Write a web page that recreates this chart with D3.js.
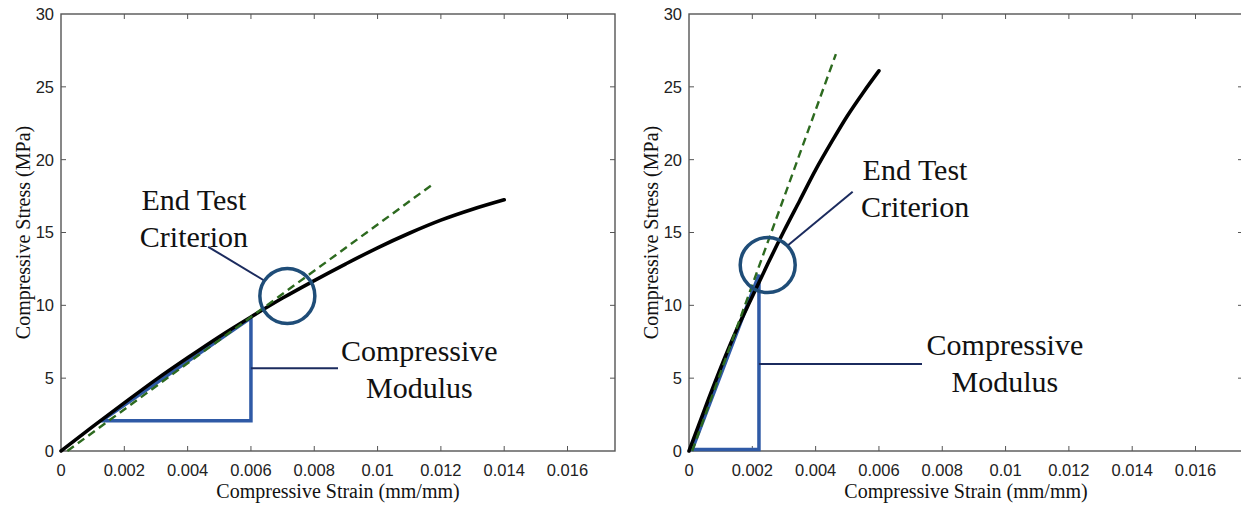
<!DOCTYPE html>
<html>
<head>
<meta charset="utf-8">
<script src="https://cdn.jsdelivr.net/npm/d3@7"></script>
<style>
body{margin:0;background:#fff;}
svg{display:block;}
</style>
</head>
<body>
<script>
var width=1241,
	height=508;

// axes
var strainTicks=[0,0.002,0.004,0.006,0.008,0.01,0.012,0.014,0.016],
	stressTicks=[0,5,10,15,20,25,30],
	strainMax=0.0175,
	stressMax=30;

// left specimen
var leftCurve=[[0,0],[0.001,1.67],[0.002,3.3],[0.003,4.9],[0.004,6.4],[0.005,7.85],[0.006,9.2],[0.007,10.5],[0.008,11.7],[0.009,12.85],[0.010,13.95],[0.011,14.95],[0.012,15.85],[0.013,16.6],[0.014,17.25]],
	leftTangent=[[0.0002,0],[0.0118,18.4]],
	leftTriangle=[[0.00128,2.07],[0.006,2.07],[0.006,9.15]],
	leftCircle=[0.00715,10.64],
	leftEndLeader=[[0.00465,14.02],[0.00639,11.74]],
	leftModLeader=[[0.006,5.68],[0.00875,5.68]],
	leftEndText=[0.0042,16.54,13.98],
	leftModText=[0.01132,6.18,3.66];

// right specimen
var rightCurve=[[0,0],[0.0005,2.9],[0.001,5.7],[0.0015,8.3],[0.002,10.6],[0.0025,12.9],[0.003,15.1],[0.0035,17.2],[0.004,19.3],[0.0045,21.2],[0.005,23.0],[0.0055,24.6],[0.006,26.1]],
	rightTangent=[[0.0001,0],[0.00464,27.25]],
	rightTriangle=[[0.0001,0.1],[0.00221,0.1],[0.00221,12.1]],
	rightCircle=[0.002486,12.77],
	rightEndLeader=[[0.00517,17.8],[0.003137,14.14]],
	rightModLeader=[[0.00221,5.97],[0.00736,5.97]],
	rightEndText=[0.00714,18.6,16.08],
	rightModText=[0.00998,6.59,4.07];

var svg=d3.select("body").append("svg").attr("width",width).attr("height",height).style("background","#fff")

function panel(left,right,top,bottom,d){
	var x=d3.scaleLinear().domain([0,strainMax]).range([left,right]),
		y=d3.scaleLinear().domain([0,stressMax]).range([bottom,top]);
	var g=svg.append("g")
	var line=d3.line().x((p)=>x(p[0])).y((p)=>y(p[1]))

	// box + inward ticks
	g.append("rect").attr("x",left).attr("y",top).attr("width",right-left).attr("height",bottom-top)
		.attr("fill","none").attr("stroke","#555").attr("stroke-width",1.4)
	var tk=5
	g.selectAll("line.xt").data(strainTicks.filter((t)=>t>0)).enter().append("line").attr("class","xt")
		.attr("x1",(t)=>x(t)).attr("x2",(t)=>x(t)).attr("y1",bottom).attr("y2",bottom-tk).attr("stroke","#555")
	g.selectAll("line.xt2").data(strainTicks.filter((t)=>t>0)).enter().append("line").attr("class","xt2")
		.attr("x1",(t)=>x(t)).attr("x2",(t)=>x(t)).attr("y1",top).attr("y2",top+tk).attr("stroke","#555")
	g.selectAll("line.yt").data(stressTicks.filter((t)=>t>0&&t<stressMax)).enter().append("line").attr("class","yt")
		.attr("y1",(t)=>y(t)).attr("y2",(t)=>y(t)).attr("x1",left).attr("x2",left+tk).attr("stroke","#555")
	g.selectAll("line.yt2").data(stressTicks.filter((t)=>t>0&&t<stressMax)).enter().append("line").attr("class","yt2")
		.attr("y1",(t)=>y(t)).attr("y2",(t)=>y(t)).attr("x1",right).attr("x2",right-tk).attr("stroke","#555")

	g.selectAll("text.xl").data(strainTicks).enter().append("text").attr("class","xl")
		.attr("x",(t)=>x(t)).attr("y",bottom+25).attr("text-anchor","middle")
		.style("font-family","'Liberation Sans',Arial,sans-serif").style("font-size","16.5px").attr("fill","#222")
		.text((t)=>t===0?"0":String(+t.toFixed(3)))
	g.selectAll("text.yl").data(stressTicks).enter().append("text").attr("class","yl")
		.attr("x",left-7).attr("y",(t)=>y(t)).attr("dy","0.36em").attr("text-anchor","end")
		.style("font-family","'Liberation Sans',Arial,sans-serif").style("font-size","16.5px").attr("fill","#222")
		.text((t)=>t)

	g.append("text").attr("x",(left+right)/2).attr("y",bottom+47).attr("text-anchor","middle")
		.style("font-family","'Liberation Serif','Times New Roman',serif").style("font-size","20px").attr("fill","#111")
		.text("Compressive Strain (mm/mm)")
	g.append("text").attr("transform","translate("+(left-31)+","+((top+bottom)/2)+") rotate(-90)").attr("text-anchor","middle")
		.style("font-family","'Liberation Serif','Times New Roman',serif").style("font-size","20px").attr("fill","#111")
		.text("Compressive Stress (MPa)")

	// modulus triangle
	g.append("path").attr("d",line(d.triangle)+"Z").attr("fill","none")
		.attr("stroke","#2f5aa6").attr("stroke-width",3.5).attr("stroke-linejoin","miter")

	// test curve and tangent
	g.append("path").attr("d",line.curve(d3.curveMonotoneX)(d.curve)).attr("fill","none")
		.attr("stroke","#000").attr("stroke-width",3.6).attr("stroke-linecap","round")
	line.curve(d3.curveLinear)
	g.append("path").attr("d",line(d.tangent)).attr("fill","none")
		.attr("stroke","#2d6a1f").attr("stroke-width",2.4).attr("stroke-dasharray","8,5")

	// end test circle + leaders
	g.append("circle").attr("cx",x(d.circle[0])).attr("cy",y(d.circle[1])).attr("r",27.5)
		.attr("fill","none").attr("stroke","#1f4d78").attr("stroke-width",3.5)
	g.append("path").attr("d",line(d.endLeader)).attr("stroke","#1b2b5e").attr("stroke-width",2).attr("fill","none")
	g.append("path").attr("d",line(d.modLeader)).attr("stroke","#1b2b5e").attr("stroke-width",2).attr("fill","none")

	var serif="'Liberation Serif','Times New Roman',serif"
	function label(pos,l1,l2){
		g.append("text").attr("x",x(pos[0])).attr("y",y(pos[1])).attr("text-anchor","middle")
			.style("font-family",serif).style("font-size","30px").attr("fill","#111").text(l1)
		g.append("text").attr("x",x(pos[0])).attr("y",y(pos[2])).attr("text-anchor","middle")
			.style("font-family",serif).style("font-size","30px").attr("fill","#111").text(l2)
	}
	label(d.endText,"End Test","Criterion")
	label(d.modText,"Compressive","Modulus")
}

panel(61,615,14,451,{curve:leftCurve,tangent:leftTangent,triangle:leftTriangle,circle:leftCircle,
	endLeader:leftEndLeader,modLeader:leftModLeader,endText:leftEndText,modText:leftModText})
panel(689,1243,14,451,{curve:rightCurve,tangent:rightTangent,triangle:rightTriangle,circle:rightCircle,
	endLeader:rightEndLeader,modLeader:rightModLeader,endText:rightEndText,modText:rightModText})
</script>
</body>
</html>
